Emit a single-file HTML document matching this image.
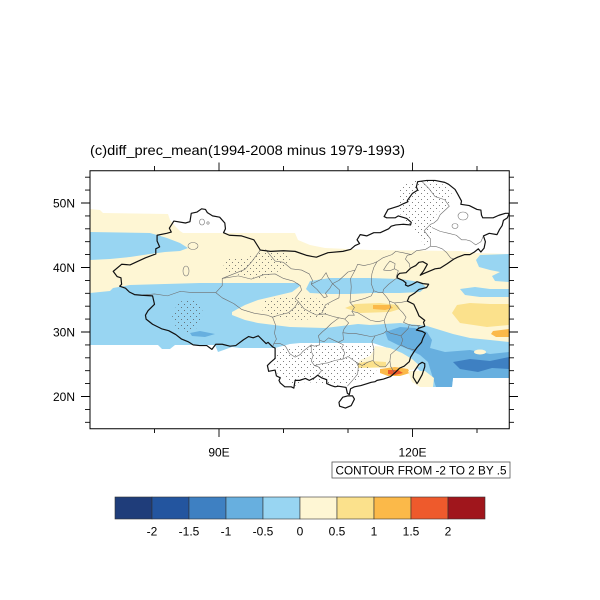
<!DOCTYPE html>
<html><head><meta charset="utf-8"><style>
html,body{margin:0;padding:0;background:#fff;}
svg{display:block;font-family:"Liberation Sans",Arial,sans-serif;}
</style></head><body>
<svg width="600" height="600" viewBox="0 0 600 600" xmlns="http://www.w3.org/2000/svg">
<defs>
<clipPath id="fr"><rect x="90" y="170.75" width="419.25" height="258"/></clipPath>
<pattern id="dots" patternUnits="userSpaceOnUse" width="6" height="6">
<circle cx="1.5" cy="1.5" r="0.5" fill="#555"/><circle cx="4.5" cy="4.5" r="0.5" fill="#555"/>
</pattern>
</defs>
<rect width="600" height="600" fill="#fff"/>
<text x="90" y="155" font-size="14" textLength="315" lengthAdjust="spacingAndGlyphs" fill="#000">(c)diff_prec_mean(1994-2008 minus 1979-1993)</text>

<g clip-path="url(#fr)">
<polygon fill="#fef6d4" points="90,209 100,210 103,213 168,214 170,220 175,226 180,231 183,233 295,233 298,240 310,245 325,248 370,250 460,251 476,253 509,254 509,342 90,342"/>
<polygon fill="#98d5f2" points="90,232 150,233 157,235 167,238 180,243 188,248 180,251 165,252 150,254 130,257 110,259 90,260"/>
<polygon fill="#98d5f2" points="310,281 330,278 370,278 400,279 420,282 426,287 420,292 400,293 370,293 352,294 330,294 310,293 306,289"/>
<polygon fill="#98d5f2" points="480,255 509,254 509,282 495,281 492,276 500,272 490,270 479,267 476,260"/>
<polygon fill="#98d5f2" points="460,289 475,287 490,289 509,289 509,297 480,297 465,295"/>
<polygon fill="#fbe18c" points="457,305 470,303 490,304 509,304 509,325 487,327 460,323 452,313"/>
<polygon fill="#fbb949" points="493,331 509,329 509,337 496,337 491,334"/>
<polygon fill="#fbe18c" points="345,308 355,304 380,303 398,305 400,309 390,312 360,313"/>
<polygon fill="#fbb949" points="373,305 390,305 393,308 385,310 373,309"/>
<polygon fill="#98d5f2" points="90,293 110,291 113,288 130,285 200,283 298,283 300,286 292,292 275,296 258,300 245,305 232,312 232,315 245,320 258,323 290,327 325,328 358,324 370,325 400,323 427,326 440,330 453,334 470,338 490,340 509,342 509,378 453,378 452,387 432,387 425,376 415,366 405,356 395,350 385,347 373,343 345,343 300,343 290,344 275,348 240,348 232,347 218,352 215,345 175,345 170,349 162,349 158,345 90,345"/>
<polygon fill="#67afdf" points="385,332 400,327 415,328 427,332 432,340 430,348 445,352 470,350 490,354 509,352 509,378 453,378 452,387 436,387 432,375 428,362 420,355 410,350 398,345 388,340"/>
<polygon fill="#3e80c2" points="453,362 470,359 490,361 509,357 509,369 492,368 478,372 460,369"/>
<polygon fill="#67afdf" points="190,333 200,331 215,334 205,337 192,336"/>
<ellipse cx="480" cy="352" rx="6" ry="2.5" fill="#fef6d4"/>
<polygon fill="#fef6d4" points="375,346 390,348 402,353 412,359 420,366 412,370 400,369 385,368 365,368 357,366 360,360 370,356 374,350"/>
<polygon fill="#fbe18c" points="358,363 372,361 386,362 386,367 358,368"/>
<polygon fill="#fbb949" points="380,369 395,367 408,369 410,373 400,376 388,376 380,373"/>
<polygon fill="#ee5a2c" points="388,370 398,370 403,373 395,375 388,374"/>
<polygon fill="#fef6d4" points="408,371 425,371 434,378 433,387 420,387 412,382"/>

<polygon fill="url(#dots)" points="172,315 178,303 188,298 200,303 203,313 200,323 195,330 185,333 177,328 173,322"/>
<polygon fill="url(#dots)" points="223,263 230,258 247,258 257,253 263,250 280,252 287,253 290,260 285,268 277,272 267,277 260,280 252,277 240,275 230,273 225,270"/>
<polygon fill="url(#dots)" points="400,187 415,180 435,180 452,190 450,205 437,213 432,225 430,240 424,245 418,235 412,225 402,220 398,205"/>
<polygon fill="url(#dots)" points="265,300 290,296 315,298 330,305 325,318 300,320 275,318 262,310"/>
<polygon fill="url(#dots)" points="277,350 300,346 345,345 370,345 376,351 365,362 378,372 370,378 350,382 340,386 320,383 305,382 292,387 285,380 276,372 273,360"/>

<g fill="none" stroke="#777" stroke-width="0.6">
<ellipse cx="202" cy="222" rx="2.5" ry="3"/><ellipse cx="208" cy="223" rx="1.2" ry="1.2"/>
<ellipse cx="193" cy="246" rx="5" ry="3.5"/><ellipse cx="186" cy="271" rx="3" ry="5"/>
<ellipse cx="463" cy="216" rx="5" ry="4"/><ellipse cx="455" cy="226" rx="3" ry="2.5"/>
</g>

<g transform="matrix(6.45 0 0 -6.45 -361.5 525.5)">
<g fill="none" stroke="#6e6e6e" stroke-width="0.6" stroke-linejoin="round">
<polyline vector-effect="non-scaling-stroke" points="78.0,35.7 80,35.9 82,35.6 84,36.3 86,36.1 89.5,36.1 90.5,37.2 90.5,38.3 92.5,39.1 94,39.7 95,40.8 96.4,42.7"/>
<polyline vector-effect="non-scaling-stroke" points="89.5,36.1 90.5,35.3 92.3,34.4 93.5,33.5 95.5,32.9 97.5,32.6 98.3,32.3 98.8,31.0 98.6,29.8 98.9,28.9 98.5,28.2 98.3,27.7"/>
<polyline vector-effect="non-scaling-stroke" points="90.5,38.3 93,38.7 95,38.2 97,38.9 98.7,39.0 100,38.3 101.5,37.9 102.6,37.2 102.8,36.5 101.8,35.2 102.3,34.7 101.7,33.8 100.8,33.0 99.2,32.6 98.3,32.3"/>
<polyline vector-effect="non-scaling-stroke" points="97.2,42.8 98.7,41.0 100.0,40.8 101.2,39.8 102.8,39.6 104.0,39.0 104.5,38.0 104.3,37.4"/>
<polyline vector-effect="non-scaling-stroke" points="104.3,37.4 105.9,38.2 106.6,39.2 106.9,38.5 107.6,37.5 107.2,36.8 106.5,36.0 106.8,35.5 106.3,35.3 105.8,35.9 105.2,36.6 104.3,37.4"/>
<polyline vector-effect="non-scaling-stroke" points="107.6,37.5 108.7,36.5 108.6,35.3 107.6,34.8 106.5,34.2 106.0,33.0 105.2,32.6 104.3,33.0 103.2,33.6 102.3,34.7"/>
<polyline vector-effect="non-scaling-stroke" points="107.6,37.5 108.6,38.0 110.0,39.3 111.1,39.6 110.4,38.3 110.5,37.0 110.4,35.5 110.3,34.6 111.0,33.8 110.6,33.2 111.0,32.6 110.1,32.6 109.5,32.0 108.6,32.2 107.7,32.4 106.4,32.8 105.5,32.7"/>
<polyline vector-effect="non-scaling-stroke" points="111.1,39.6 111.5,40.5 112.5,40.3 113.8,40.6 114.5,40.9 115.4,41.5 116.8,42.0 117.4,42.5 118.5,42.3 119.8,42.0 120.6,42.6 122.0,42.8 122.8,43.3 122.8,44.4 121.8,45.7 122.8,46.7 123.3,46.9 123.9,47.4 124.3,48.2 125.7,49.5 125.0,50.5 123.5,51.0 122.5,52.3 121.5,53.3"/>
<polyline vector-effect="non-scaling-stroke" points="114.5,40.9 114.0,40.0 113.7,39.0 113.6,37.5 114.0,36.4 113.6,35.6 112.6,35.2 110.4,34.6"/>
<polyline vector-effect="non-scaling-stroke" points="119.6,40.0 119.5,40.6 118.9,41.3 119.2,41.9 119.8,42.0"/>
<polyline vector-effect="non-scaling-stroke" points="115.5,39.6 116.0,40.4 116.5,41.0 117.3,40.6 117.2,39.8 116.5,39.5 115.5,39.6"/>
<polyline vector-effect="non-scaling-stroke" points="117.2,39.8 117.8,39.5 117.5,38.6 117.6,38.4"/>
<polyline vector-effect="non-scaling-stroke" points="122.8,43.3 123.8,43.2 124.6,42.9 125.3,42.3 125.9,41.5 126.4,41.3"/>
<polyline vector-effect="non-scaling-stroke" points="123.0,46.2 124.3,45.6 125.6,45.3 126.8,45.0 127.6,44.3 128.3,44.3 129.0,44.1 129.8,43.5 130.6,44.0 131.0,44.9"/>
<polyline vector-effect="non-scaling-stroke" points="117.6,38.4 116.3,37.4 115.5,36.6 115.4,36.1 116.0,35.4 116.4,34.8 117.2,34.5 118.3,34.6 119.2,34.8"/>
<polyline vector-effect="non-scaling-stroke" points="114.0,36.4 114.8,36.1 115.4,36.1"/>
<polyline vector-effect="non-scaling-stroke" points="110.6,33.2 111.5,33.0 112.5,32.4 113.5,31.8 114.6,31.6 115.6,31.8 116.0,32.8 116.6,33.8 116.4,34.8"/>
<polyline vector-effect="non-scaling-stroke" points="117.2,34.5 118.0,33.5 118.5,33.0 119.0,32.3 118.6,31.5 119.3,31.2 120.0,31.0 120.8,31.0 121.2,31.0"/>
<polyline vector-effect="non-scaling-stroke" points="115.6,31.8 116.0,30.2 116.6,29.8 117.5,29.6 118.2,29.4 118.7,29.9 119.3,30.5 119.5,31.1"/>
<polyline vector-effect="non-scaling-stroke" points="109.5,32.0 110.1,31.4 109.4,30.5 109.2,29.9 110.0,29.8 111.0,29.8 112.0,29.6 113.5,29.3 114.2,29.4 115.5,29.8 116.0,30.2"/>
<polyline vector-effect="non-scaling-stroke" points="108.6,32.2 107.4,31.3 106.7,30.6 106.0,30.0 105.4,29.4 105.6,28.7 106.3,28.5 107.0,29.1 108.5,28.4 109.3,28.8 109.2,29.9"/>
<polyline vector-effect="non-scaling-stroke" points="98.5,28.2 99.5,28.2 100.3,27.8 101.0,26.6 101.8,26.1 102.6,26.5 103.0,27.0 104.3,28.0 104.8,27.8 105.6,28.0 105.6,28.7"/>
<polyline vector-effect="non-scaling-stroke" points="104.3,28.0 104.3,27.0 104.6,26.4 104.3,25.5 104.8,24.8 105.4,24.6 105.9,24.0 105.3,23.3"/>
<polyline vector-effect="non-scaling-stroke" points="104.8,24.8 106.0,25.1 106.8,25.2 108.0,25.6 109.2,25.8 109.5,26.8 109.0,27.5 109.3,28.0 108.5,28.4"/>
<polyline vector-effect="non-scaling-stroke" points="109.2,25.8 110.0,26.2 111.3,25.3 112.2,24.8 113.0,25.3 113.9,25.6 114.0,26.5 114.0,27.5 113.7,28.5 114.2,29.4"/>
<polyline vector-effect="non-scaling-stroke" points="111.3,25.3 111.6,24.7 111.5,23.5 110.7,22.5 109.9,21.6"/>
<polyline vector-effect="non-scaling-stroke" points="113.9,25.6 114.2,25.1 115.0,24.6 115.8,24.6 116.5,25.5 116.6,26.5 117.5,27.3 118.2,28.0 118.5,28.8 118.2,29.4"/>
<polyline vector-effect="non-scaling-stroke" points="118.2,28.0 119.2,27.5 120.0,27.3 120.4,27.2"/>
<polyline vector-effect="non-scaling-stroke" points="116.5,25.5 116.6,24.7 117.0,24.0 117.2,23.6"/>
<polyline vector-effect="non-scaling-stroke" points="120.8,31.0 121.0,30.6"/>
</g>
<g fill="none" stroke="#111" stroke-width="1.2" stroke-linejoin="round">
<polygon vector-effect="non-scaling-stroke" points="73.6,39.4 74.9,40.5 76.2,40.4 77.5,41.0 78.6,41.5 80.2,42.1 80.2,42.9 80.8,43.2 80.4,44.1 80.4,45.0 81.9,45.3 82.6,45.5 82.3,46.1 83.0,47.2 84.8,46.9 85.5,47.1 85.7,48.4 86.6,48.6 87.3,49.1 87.9,49.0 88.2,48.5 89.0,48.0 90.1,47.8 90.9,46.9 91.0,46.0 90.7,45.4 91.6,45.0 93.5,44.9 95.4,44.3 96.4,42.7 98.0,42.5 100.0,42.6 101.8,42.5 103.5,41.9 104.5,41.7 105.1,41.6 106.9,42.3 109.2,42.5 110.4,42.8 111.1,43.4 111.8,43.7 111.4,44.3 111.9,45.1 112.9,44.9 114.0,45.4 115.0,45.4 116.3,46.0 116.7,46.4 117.4,46.6 118.5,46.7 119.7,46.6 119.8,47.0 119.1,47.6 117.8,48.0 117.3,47.7 116.0,47.7 115.6,47.9 116.2,49.0 117.8,49.5 118.6,49.9 119.3,50.2 119.2,50.4 120.0,51.5 120.8,52.0 120.6,52.5 120.8,53.3 122.2,53.5 123.5,53.5 125.0,53.2 125.6,52.9 126.6,52.1 127.0,51.4 127.6,50.3 127.5,49.8 128.8,49.6 130.0,49.0 130.6,48.9 130.7,48.1 130.9,47.7 132.5,47.7 133.4,48.1 134.4,48.4 135.0,48.4 134.7,47.7 134.1,47.3 133.9,46.5 133.5,45.9 133.1,45.1 131.9,45.3 131.0,44.9 131.3,44.0 131.1,43.0 130.6,42.4 130.2,42.9 129.6,42.4 128.9,42.0 128.1,42.0 127.0,41.6 126.4,41.3 125.4,40.6 124.3,39.9 123.5,39.8 122.8,39.5 121.6,39.0 121.2,38.8 121.6,39.3 121.8,39.6 122.3,40.5 121.6,40.9 121.0,40.8 120.5,40.3 119.7,39.9 119.0,39.2 118.0,39.1 117.7,38.8 117.6,38.4 118.5,38.0 119.0,37.6 118.9,37.3 119.3,37.1 120.0,37.4 120.7,37.8 121.6,37.5 122.5,37.4 122.2,36.9 121.0,36.6 120.3,36.0 119.5,35.5 119.2,34.8 120.2,34.3 120.8,33.0 121.0,32.5 121.9,31.8 121.7,31.5 121.9,30.9 121.0,30.6 120.6,30.3 121.5,30.1 122.0,29.8 121.6,29.0 121.4,28.4 120.7,27.6 120.2,26.9 119.7,26.1 119.5,25.4 118.7,24.7 118.0,24.4 117.3,23.7 116.6,23.1 115.5,22.7 114.5,22.5 114.2,22.3 113.6,22.2 113.0,22.0 112.0,21.7 111.0,21.5 110.4,21.2 110.2,20.3 109.9,20.5 109.7,21.4 109.1,21.5 108.5,21.6 108.0,21.5 107.4,21.7 106.7,22.0 106.7,22.6 105.9,22.9 105.3,23.3 104.8,22.9 104.0,22.5 103.4,22.8 102.5,22.5 101.8,22.5 101.6,21.3 101.2,21.5 100.2,21.5 99.5,22.1 99.3,22.5 99.5,22.9 98.9,23.2 98.7,24.1 97.7,23.9 97.5,24.8 98.0,25.3 98.7,25.9 98.7,27.5 98.3,27.7 97.6,28.4 97.3,28.2 96.1,29.4 95.3,29.1 94.6,29.3 93.8,28.8 92.6,27.9 91.7,27.8 90.5,28.1 89.5,28.1 88.9,27.3 88.1,27.9 87.0,27.9 86.0,28.0 85.2,28.5 84.2,28.9 83.3,29.6 82.2,30.2 81.1,30.5 79.7,31.2 78.7,32.0 78.6,32.6 79.0,33.3 80.0,34.3 79.7,35.6 78.0,35.7 76.9,35.8 76.1,36.2 75.5,36.8 74.6,37.1 74.9,37.4 74.8,38.4 74.2,38.6"/>
<polygon vector-effect="non-scaling-stroke" points="108.6,19.1 108.7,18.5 109.6,18.2 110.5,18.6 111.0,19.6 110.7,20.1 110.0,20.1 109.2,19.9"/>
<polygon vector-effect="non-scaling-stroke" points="120.1,23.0 120.7,22.0 120.9,22.3 121.5,23.4 121.9,24.6 121.9,25.1 121.5,25.3 121.0,25.0 120.2,23.8"/>
</g>
</g>
</g>

<rect x="90" y="170.75" width="419.25" height="258" fill="none" stroke="#000" stroke-width="1"/>
<path stroke="#000" stroke-width="0.9" fill="none" d="
M85 422.3H90M85 409.4H90M81 396.5H90M85 383.6H90M85 370.7H90M85 357.8H90M85 344.9H90M81 332H90M85 319.1H90M85 306.2H90M85 293.3H90M85 280.4H90M81 267.5H90M85 254.6H90M85 241.7H90M85 228.8H90M85 215.9H90M81 203H90M85 190.1H90M85 177.2H90
M509.25 422.3H514M509.25 409.4H514M509.25 396.5H518M509.25 383.6H514M509.25 370.7H514M509.25 357.8H514M509.25 344.9H514M509.25 332H518M509.25 319.1H514M509.25 306.2H514M509.25 293.3H514M509.25 280.4H514M509.25 267.5H518M509.25 254.6H514M509.25 241.7H514M509.25 228.8H514M509.25 215.9H514M509.25 203H518M509.25 190.1H514M509.25 177.2H514
M154.5 170.75V166M219 170.75V162.5M283.5 170.75V166M348 170.75V166M412.5 170.75V162.5M477 170.75V166
M154.5 428.75V433M219 428.75V437M283.5 428.75V433M348 428.75V433M412.5 428.75V437M477 428.75V433"/>
<g font-size="12" fill="#000" text-anchor="end">
<text x="75" y="207.3">50N</text>
<text x="75" y="271.8">40N</text>
<text x="75" y="336.3">30N</text>
<text x="75" y="400.8">20N</text>
</g>
<g font-size="12" fill="#000" text-anchor="middle">
<text x="219" y="456.5">90E</text>
<text x="412.5" y="456.5">120E</text>
</g>
<rect x="332" y="462" width="178" height="16" fill="#fff" stroke="#555" stroke-width="0.8"/>
<text x="335.5" y="474.3" font-size="11.5" textLength="171" lengthAdjust="spacingAndGlyphs" fill="#000">CONTOUR FROM -2 TO 2 BY .5</text>

<g stroke="#333" stroke-width="0.6">
<rect x="115" y="497" width="37" height="22" fill="#1f3d7a"/>
<rect x="152" y="497" width="37" height="22" fill="#23559f"/>
<rect x="189" y="497" width="37" height="22" fill="#3e80c2"/>
<rect x="226" y="497" width="37" height="22" fill="#67afdf"/>
<rect x="263" y="497" width="37" height="22" fill="#98d5f2"/>
<rect x="300" y="497" width="37" height="22" fill="#fef6d4"/>
<rect x="337" y="497" width="37" height="22" fill="#fbe18c"/>
<rect x="374" y="497" width="37" height="22" fill="#fbb949"/>
<rect x="411" y="497" width="37" height="22" fill="#ee5a2c"/>
<rect x="448" y="497" width="37" height="22" fill="#a0161c"/>
</g>
<g font-size="12" fill="#000" text-anchor="middle">
<text x="152" y="535.5">-2</text>
<text x="189" y="535.5">-1.5</text>
<text x="226" y="535.5">-1</text>
<text x="263" y="535.5">-0.5</text>
<text x="300" y="535.5">0</text>
<text x="337" y="535.5">0.5</text>
<text x="374" y="535.5">1</text>
<text x="411" y="535.5">1.5</text>
<text x="448" y="535.5">2</text>
</g>
</svg>
</body></html>
